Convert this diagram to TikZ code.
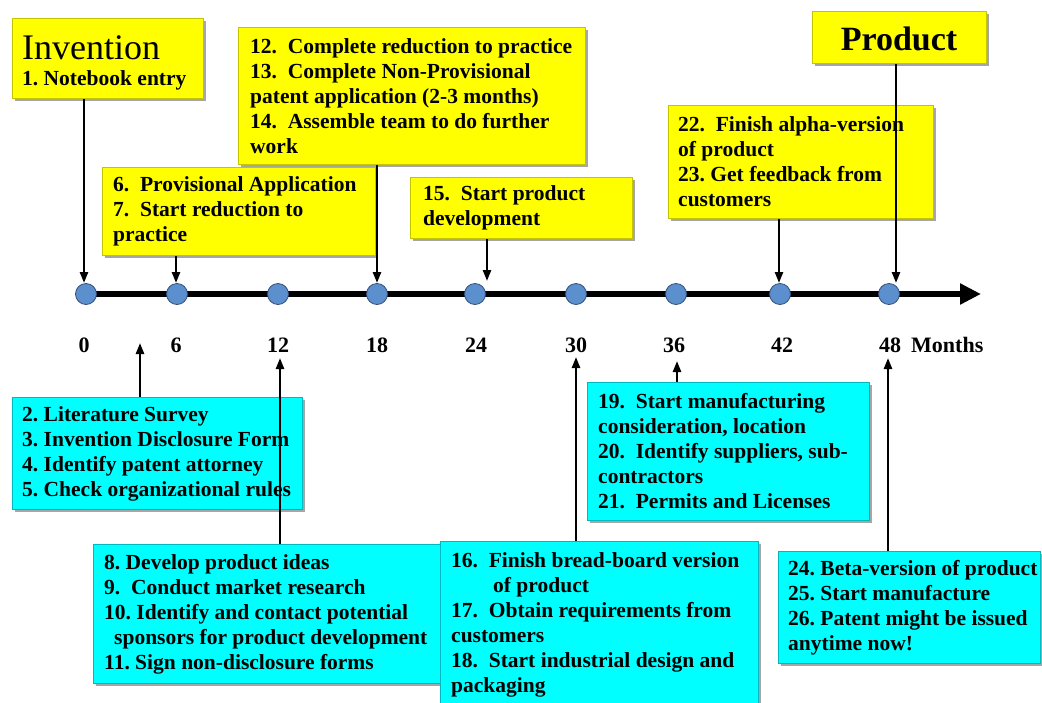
\documentclass[tikz,border=0pt]{standalone}
\usepackage{fontspec}
\setmainfont{Liberation Serif}
\usetikzlibrary{arrows.meta,shadows,backgrounds}
\definecolor{byel}{RGB}{255,255,0}
\definecolor{byeld}{RGB}{196,196,0}
\definecolor{bcyan}{RGB}{0,255,255}
\definecolor{bcyand}{RGB}{0,185,190}
\definecolor{dotfill}{RGB}{92,143,205}
\definecolor{dotdraw}{RGB}{50,80,125}
\frenchspacing
\begin{document}
\begin{tikzpicture}[x=1pt,y=-1pt,
  boxbase/.style={rectangle, anchor=north west, inner sep=0pt, line width=1pt,
    drop shadow={shadow xshift=2.5pt, shadow yshift=-2.5pt, opacity=0.35, fill=black}},
  ybox/.style={boxbase, fill=byel, draw=byeld},
  cbox/.style={boxbase, fill=bcyan, draw=bcyand},
  txt/.style={anchor=west, inner sep=0pt, align=left, font=\bfseries\fontsize{21.5}{25}\selectfont},
  dot/.style={circle, minimum size=21pt, inner sep=0pt, fill=dotfill, draw=dotdraw, line width=0.8pt},
  conn/.style={line width=2.4pt, -{Triangle[length=11pt,width=8pt]}},
  lab/.style={anchor=base, inner sep=0pt, font=\bfseries\fontsize{22}{26}\selectfont}
]
\clip (0,0) rectangle (1042,702);

% ---------- top yellow boxes ----------
\node[ybox, minimum width=191pt, minimum height=80pt] (binv) at (12,18) {};
\node[anchor=base west, inner sep=0pt, font=\fontsize{36}{40}\selectfont] (tinv) at (22,59) {Invention};
\node[anchor=base west, inner sep=0pt, font=\bfseries\fontsize{21.5}{25}\selectfont] (tnb) at (22,85) {1. Notebook entry};

\node[ybox, minimum width=347pt, minimum height=137pt] (b12) at (238,27) {};
\node[txt] (t12) at ([xshift=12pt]b12.west) {12.\ \ Complete reduction to practice\\13.\ \ Complete Non-Provisional\\patent application (2-3 months)\\14.\ \ Assemble team to do further\\work};

\node[ybox, minimum width=273pt, minimum height=88pt] (b6) at (102,167) {};
\node[txt] (t6) at ([xshift=11pt]b6.west) {6.\ \ Provisional Application\\7.\ \ Start reduction to\\practice};

\node[ybox, minimum width=222pt, minimum height=61pt] (b15) at (410,177) {};
\node[txt] (t15) at ([xshift=13pt]b15.west) {15.\ \ Start product\\development};

\node[ybox, minimum width=265pt, minimum height=113pt] (b22) at (668,105) {};
\node[txt] (t22) at ([xshift=10pt]b22.west) {22.\ \ Finish alpha-version\\of product\\23. Get feedback from\\customers};

\node[ybox, minimum width=174pt, minimum height=52pt] (bprod) at (812,11) {};
\node[anchor=base, inner sep=0pt, font=\bfseries\fontsize{34}{38}\selectfont] (tprod) at (899,50) {Product};

% ---------- bottom cyan boxes ----------
\node[cbox, minimum width=290pt, minimum height=112pt] (b2) at (12,397) {};
\node[txt] (t2) at ([xshift=10pt]b2.west) {2. Literature Survey\\3. Invention Disclosure Form\\4. Identify patent attorney\\5. Check organizational rules};

\node[cbox, minimum width=357pt, minimum height=139pt] (b8) at (93,544) {};
\node[txt] (t8) at ([xshift=11pt]b8.west) {8. Develop product ideas\\9.\ \ Conduct market research\\10. Identify and contact potential\\\hspace*{10pt}sponsors for product development\\11. Sign non-disclosure forms};

\node[cbox, minimum width=318pt, minimum height=165pt] (b16) at (440,541) {};
\node[txt] (t16) at ([xshift=11pt,yshift=-1pt]b16.west) {16.\ \ Finish bread-board version\\\hspace*{42pt}of product\\17.\ \ Obtain requirements from\\customers\\18.\ \ Start industrial design and\\packaging};

\node[cbox, minimum width=282pt, minimum height=138pt] (b19) at (587,382) {};
\node[txt] (t19) at ([xshift=11pt]b19.west) {19.\ \ Start manufacturing\\consideration, location\\20.\ \ Identify suppliers, sub-\\contractors\\21.\ \ Permits and Licenses};

\node[cbox, minimum width=262pt, minimum height=112pt] (b24) at (778,551) {};
\node[txt] (t24) at ([xshift=10pt]b24.west) {24. Beta-version of product\\25. Start manufacture\\26. Patent might be issued\\anytime now!};

% ---------- timeline ----------
\node[dot] (c0)  at (86,294) {};
\node[dot] (c6)  at (177,294) {};
\node[dot] (c12) at (278,294) {};
\node[dot] (c18) at (377,294) {};
\node[dot] (c24) at (475,294) {};
\node[dot] (c30) at (576,294) {};
\node[dot] (c36) at (676,294) {};
\node[dot] (c42) at (780,294) {};
\node[dot] (c48) at (889,294) {};
\coordinate (tend) at (981,294);
\begin{pgfonlayer}{background}
\draw[line width=6.5pt, -{Triangle[length=21pt,width=20pt]}] (c0.center) -- (tend);
\end{pgfonlayer}

\node[lab] (l0)  at (84,352) {0};
\node[lab] (l6)  at (176,352) {6};
\node[lab] (l12) at (278,352) {12};
\node[lab] (l18) at (377,352) {18};
\node[lab] (l24) at (476,352) {24};
\node[lab] (l30) at (576,352) {30};
\node[lab] (l36) at (674,352) {36};
\node[lab] (l42) at (782,352) {42};
\node[lab] (l48) at (890,352) {48};
\node[lab, anchor=base west] (lm) at (911,352) {Months};

% ---------- connectors ----------
\coordinate (a0)  at (84,283);
\coordinate (a6)  at (176,283);
\coordinate (a18) at (377,283);
\coordinate (a24) at (487,281);
\coordinate (a42) at (779,283);
\coordinate (a48) at (896,283);
\draw[conn] (binv.south -| a0) -- (a0);
\draw[conn] (b6.south -| a6) -- (a6);
\draw[conn] (b12.south -| a18) -- (a18);
\draw[conn] (b15.south -| a24) -- (a24);
\draw[conn] (b22.south -| a42) -- (a42);
\draw[conn] (bprod.south -| a48) -- (a48);

\coordinate (u2)  at (140,343);
\coordinate (u12) at (280,358);
\coordinate (u30) at (576,357);
\coordinate (u36) at (677,361);
\coordinate (u48) at (888,358);
\draw[conn] (b2.north -| u2) -- (u2);
\draw[conn] (b8.north -| u12) -- (u12);
\draw[conn] (b16.north -| u30) -- (u30);
\draw[conn] (b19.north -| u36) -- (u36);
\draw[conn] (b24.north -| u48) -- (u48);
\end{tikzpicture}
\end{document}
